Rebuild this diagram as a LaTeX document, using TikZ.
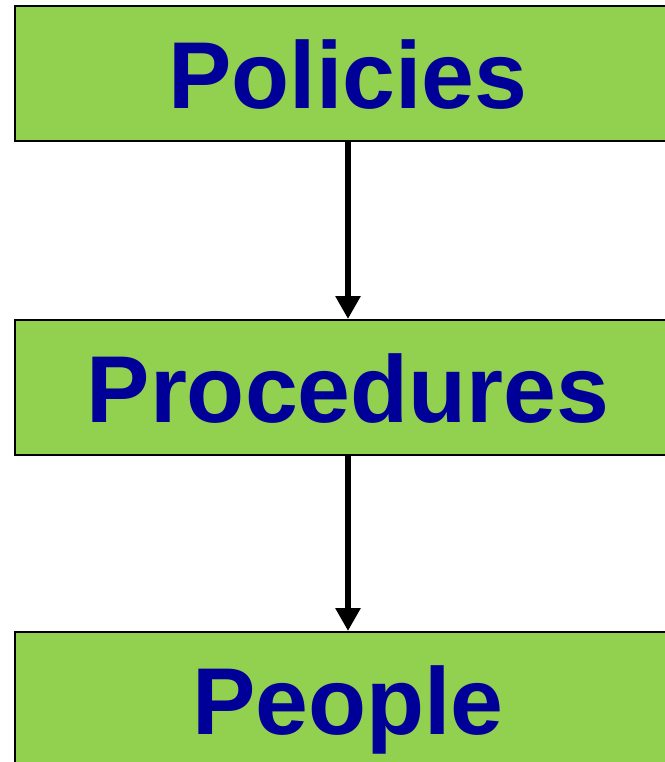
\documentclass[tikz,border=0pt]{standalone}
\usepackage{fontspec}
\setmainfont{Liberation Sans}
\usetikzlibrary{arrows.meta, positioning}
\definecolor{tiergreen}{HTML}{92D050}
\definecolor{tierblue}{HTML}{000099}

\tikzset{
  tier/.style={draw=black, line width=2pt, fill=tiergreen,
    minimum width=666pt, minimum height=135pt, inner sep=0pt,
    text=tierblue, font=\fontsize{95}{100}\selectfont\bfseries,
    text height=70pt, text depth=0pt},
  flow/.style={line width=6pt, -{Triangle[length=23pt,width=24pt]}}
}

\begin{document}
\begin{tikzpicture}[x=1pt,y=1pt]
\useasboundingbox (0,0) rectangle (664,-762);

%tiers
\node[tier, anchor=north west] (policies) at (14,-5.5) {Policies};
\node[tier, below=176.5pt of policies] (procedures) {Procedures};
\node[tier, below=175pt of procedures] (people) {People};

%arrows
\draw[flow] (policies) -- (procedures);
\draw[flow] (procedures) -- (people);

\end{tikzpicture}
\end{document}
